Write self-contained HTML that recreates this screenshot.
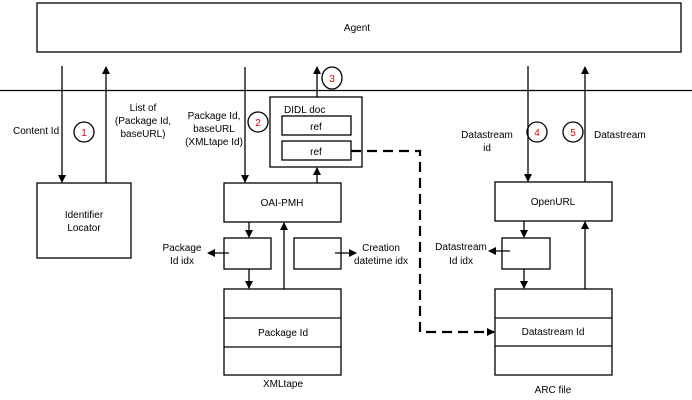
<!DOCTYPE html>
<html><head><meta charset="utf-8"><style>
html,body{margin:0;padding:0;background:#fff;}
svg{display:block;}
text{font-family:"Liberation Sans",sans-serif;font-size:10px;fill:#000;}
.r{fill:#e00;}
</style></head><body>
<svg width="692" height="400" viewBox="0 0 692 400">
<defs>
<marker id="a" markerWidth="8" markerHeight="8" refX="7" refY="4" orient="auto" markerUnits="userSpaceOnUse">
<path d="M0,0 L8,4 L0,8 z" fill="#000"/></marker>
</defs>
<g fill="none" stroke="#000" stroke-width="1.3">
<rect x="37" y="3" width="644" height="49" fill="#fff"/>
<line x1="0" y1="90.5" x2="692" y2="90.5"/>
<!-- left -->
<line x1="62" y1="66" x2="62" y2="182" marker-end="url(#a)"/>
<line x1="106" y1="183" x2="106" y2="67" marker-end="url(#a)"/>
<rect x="37" y="183" width="94" height="75"/>
<circle cx="84" cy="132" r="10"/>
<!-- middle -->
<line x1="245" y1="67" x2="245" y2="182" marker-end="url(#a)"/>
<circle cx="258" cy="122" r="10"/>
<rect x="270" y="97" width="92" height="70"/>
<rect x="282" y="116" width="69" height="19"/>
<rect x="282" y="141" width="69" height="19"/>
<line x1="317" y1="97" x2="317" y2="67" marker-end="url(#a)"/>
<ellipse cx="332" cy="78" rx="10" ry="11"/>
<line x1="317" y1="183" x2="317" y2="168" marker-end="url(#a)"/>
<rect x="224" y="183" width="117" height="39"/>
<rect x="224" y="238" width="47" height="31"/>
<rect x="294" y="238" width="47" height="31"/>
<line x1="249" y1="222" x2="249" y2="237" marker-end="url(#a)"/>
<line x1="229" y1="253" x2="208" y2="253" marker-end="url(#a)"/>
<line x1="335" y1="253" x2="356" y2="253" marker-end="url(#a)"/>
<line x1="284" y1="289" x2="284" y2="223" marker-end="url(#a)"/>
<line x1="249" y1="269" x2="249" y2="288" marker-end="url(#a)"/>
<rect x="224" y="289" width="117" height="86"/>
<line x1="224" y1="318" x2="341" y2="318"/>
<line x1="224" y1="347" x2="341" y2="347"/>
<!-- dashed -->
<polyline points="351,151 420,151 420,332 494,332" stroke-width="2.2" stroke-dasharray="10,6" marker-end="url(#a)"/>
<!-- right -->
<line x1="528" y1="66" x2="528" y2="181" marker-end="url(#a)"/>
<line x1="585" y1="182" x2="585" y2="67" marker-end="url(#a)"/>
<circle cx="537" cy="132" r="10"/>
<circle cx="573" cy="132" r="10"/>
<rect x="495" y="182" width="117" height="39"/>
<rect x="502" y="238" width="48" height="31"/>
<line x1="524" y1="221" x2="524" y2="237" marker-end="url(#a)"/>
<line x1="510" y1="251" x2="489" y2="251" marker-end="url(#a)"/>
<line x1="524" y1="269" x2="524" y2="288" marker-end="url(#a)"/>
<line x1="585" y1="289" x2="585" y2="222" marker-end="url(#a)"/>
<rect x="495" y="289" width="117" height="86"/>
<line x1="495" y1="318" x2="612" y2="318"/>
<line x1="495" y1="346" x2="612" y2="346"/>
</g>
<text x="357" y="31" text-anchor="middle" font-size="9">Agent</text>
<text x="13" y="134">Content Id</text>
<text x="84" y="136" text-anchor="middle" class="r" font-size="9">1</text>
<text x="143" y="111" text-anchor="middle">List of</text>
<text x="143" y="124" text-anchor="middle">(Package Id,</text>
<text x="143" y="137" text-anchor="middle">baseURL)</text>
<text x="84" y="218" text-anchor="middle">Identifier</text>
<text x="84" y="231" text-anchor="middle">Locator</text>
<text x="214" y="119" text-anchor="middle">Package Id,</text>
<text x="214" y="132" text-anchor="middle">baseURL</text>
<text x="214" y="145" text-anchor="middle">(XMLtape Id)</text>
<text x="258" y="126" text-anchor="middle" class="r">2</text>
<text x="332" y="82" text-anchor="middle" class="r">3</text>
<text x="284" y="113">DIDL doc</text>
<text x="316" y="130" text-anchor="middle">ref</text>
<text x="316" y="155" text-anchor="middle">ref</text>
<text x="282" y="206" text-anchor="middle">OAI-PMH</text>
<text x="182" y="251" text-anchor="middle">Package</text>
<text x="182" y="264" text-anchor="middle">Id idx</text>
<text x="381" y="251" text-anchor="middle">Creation</text>
<text x="381" y="264" text-anchor="middle">datetime idx</text>
<text x="283" y="336" text-anchor="middle">Package Id</text>
<text x="283" y="387" text-anchor="middle">XMLtape</text>
<text x="487" y="138" text-anchor="middle">Datastream</text>
<text x="487" y="151" text-anchor="middle">id</text>
<text x="537" y="136" text-anchor="middle" class="r">4</text>
<text x="573" y="136" text-anchor="middle" class="r">5</text>
<text x="594" y="138">Datastream</text>
<text x="553" y="205" text-anchor="middle">OpenURL</text>
<text x="461" y="250" text-anchor="middle">Datastream</text>
<text x="461" y="264" text-anchor="middle">Id idx</text>
<text x="553" y="335" text-anchor="middle">Datastream Id</text>
<text x="553" y="393" text-anchor="middle">ARC file</text>
</svg>
</body></html>
